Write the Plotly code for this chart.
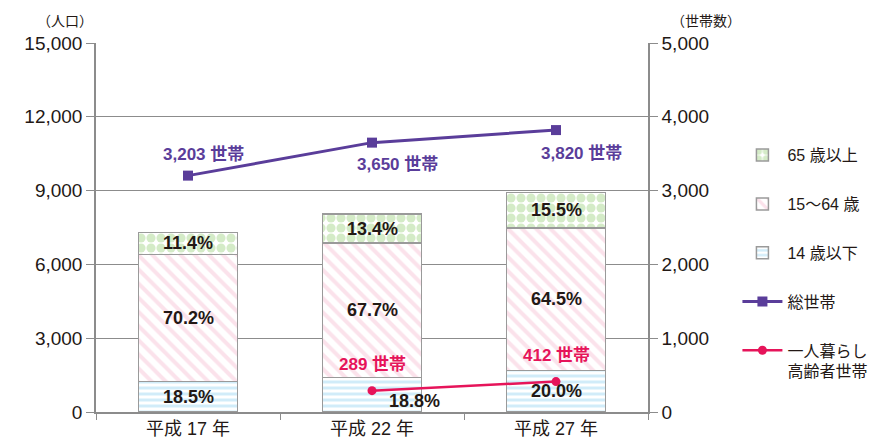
import plotly.graph_objects as go

# 年次
years = ['平成 17 年', '平成 22 年', '平成 27 年']

# 年齢別人口
pop_0_14 = [1240, 1395, 1680]
pop_15_64 = [5170, 5465, 5810]
pop_65 = [880, 1190, 1425]

# 構成比ラベル
pct_0_14 = ['18.5%', '18.8%', '20.0%']
pct_15_64 = ['70.2%', '67.7%', '64.5%']
pct_65 = ['11.4%', '13.4%', '15.5%']

# 世帯数
households = [3203, 3650, 3820]
elderly_alone = [None, 289, 412]

FONT = 'Liberation Sans, Noto Sans CJK JP, sans-serif'
PURPLE = '#5a3d9a'
RED = '#e6145a'
EDGE = '#9a9a9a'
INK = '#231815'

fig = go.Figure()

fig.add_trace(go.Bar(
    x=years, y=pop_0_14, name='14 歳以下', legendrank=3, legendgroup='c',
    marker=dict(color='white', line=dict(color=EDGE, width=1.5),
                pattern=dict(shape='-', fgcolor='#a3daf3', bgcolor='white', size=6, solidity=0.5)),
))
fig.add_trace(go.Bar(
    x=years, y=pop_15_64, name='15～64 歳', legendrank=2, legendgroup='b',
    marker=dict(color='white', line=dict(color=EDGE, width=1.5),
                pattern=dict(shape='\\', fgcolor='#f7c6d8', bgcolor='white', size=10, solidity=0.4)),
))
fig.add_trace(go.Bar(
    x=years, y=pop_65, name='65 歳以上', legendrank=1, legendgroup='a',
    marker=dict(color='white', line=dict(color=EDGE, width=1.5),
                pattern=dict(shape='.', fgcolor='#a9d78f', bgcolor='white', size=10, solidity=0.65)),
))

fig.add_trace(go.Scatter(
    x=years, y=households, name='総世帯', yaxis='y2', legendrank=4, legendgroup='d',
    mode='lines+markers', line=dict(color=PURPLE, width=3),
    marker=dict(symbol='square', size=10, color=PURPLE),
))
fig.add_trace(go.Scatter(
    x=years, y=elderly_alone, name='一人暮らし<br>高齢者世帯', yaxis='y2', legendrank=5, legendgroup='e',
    mode='lines+markers', line=dict(color=RED, width=2.5),
    marker=dict(symbol='circle', size=9, color=RED),
))

# 構成比ラベル（各区分の中央）
annotations = []
for i, yr in enumerate(years):
    b0 = pop_0_14[i]
    b1 = b0 + pop_15_64[i]
    b2 = b1 + pop_65[i]
    xs = 42 if i == 1 else 0
    ys = -6 if i == 1 else 0
    annotations.append(dict(x=yr, y=b0 / 2, text=pct_0_14[i], showarrow=False, xshift=xs, yshift=ys))
    annotations.append(dict(x=yr, y=(b0 + b1) / 2, text=pct_15_64[i], showarrow=False))
    annotations.append(dict(x=yr, y=(b1 + b2) / 2, text=pct_65[i], showarrow=False))
for a in annotations:
    a['font'] = dict(family=FONT, size=18, color=INK, weight='bold')

# 世帯数ラベル
hh_shift = [(15, 21), (25, -22), (25, -23)]
for yr, v, (dx, dy) in zip(years, households, hh_shift):
    annotations.append(dict(x=yr, y=v, yref='y2', text=f'{v:,} 世帯', showarrow=False,
                            xshift=dx, yshift=dy,
                            font=dict(family=FONT, size=17, color=PURPLE, weight='bold')))
for yr, v in zip(years, elderly_alone):
    if v is None:
        continue
    annotations.append(dict(x=yr, y=v, yref='y2', text=f'{v} 世帯', showarrow=False,
                            xshift=0, yshift=26,
                            font=dict(family=FONT, size=17, color=RED, weight='bold')))

# 軸タイトル
annotations.append(dict(xref='paper', yref='paper', x=-0.056, y=1.0, yshift=22,
                        xanchor='center', yanchor='middle',
                        text='（人口）', showarrow=False, font=dict(family=FONT, size=14, color=INK)))
annotations.append(dict(xref='paper', yref='paper', x=1.105, y=1.0, yshift=22,
                        xanchor='center', yanchor='middle',
                        text='（世帯数）', showarrow=False, font=dict(family=FONT, size=14, color=INK)))

axis_common = dict(
    showline=True, linecolor='#8c8c8c', linewidth=1.5,
    ticks='outside', tickcolor='#8c8c8c', automargin=False,
)

# ページ本体の余白 8px を差し引き、凡例が右端で切れるよう幅を広めにとる
fig.update_layout(
    width=900, height=431,
    margin=dict(l=88, r=260, t=35, b=27),
    barmode='stack', bargap=0.46,
    plot_bgcolor='white', paper_bgcolor='white',
    font=dict(family=FONT, size=19, color=INK),
    annotations=annotations,
    xaxis=dict(
        **axis_common, tickson='boundaries', ticklen=6,
        tickfont=dict(size=18), showgrid=False,
    ),
    yaxis=dict(
        **axis_common, range=[0, 15000], dtick=3000, tickformat=',', ticklen=8,
        showgrid=True, gridcolor='#8c8c8c', gridwidth=1.2, zeroline=False,
    ),
    yaxis2=dict(
        **axis_common, range=[0, 5000], dtick=1000, tickformat=',', ticklen=8,
        overlaying='y', side='right', showgrid=False, zeroline=False,
    ),
    legend=dict(
        x=1.162, y=0.742, xanchor='left', yanchor='top',
        traceorder='grouped', tracegroupgap=25, valign='top',
        font=dict(family=FONT, size=16, color=INK),
        itemwidth=40, bgcolor='rgba(0,0,0,0)',
    ),
)

fig.write_html('out.html')
